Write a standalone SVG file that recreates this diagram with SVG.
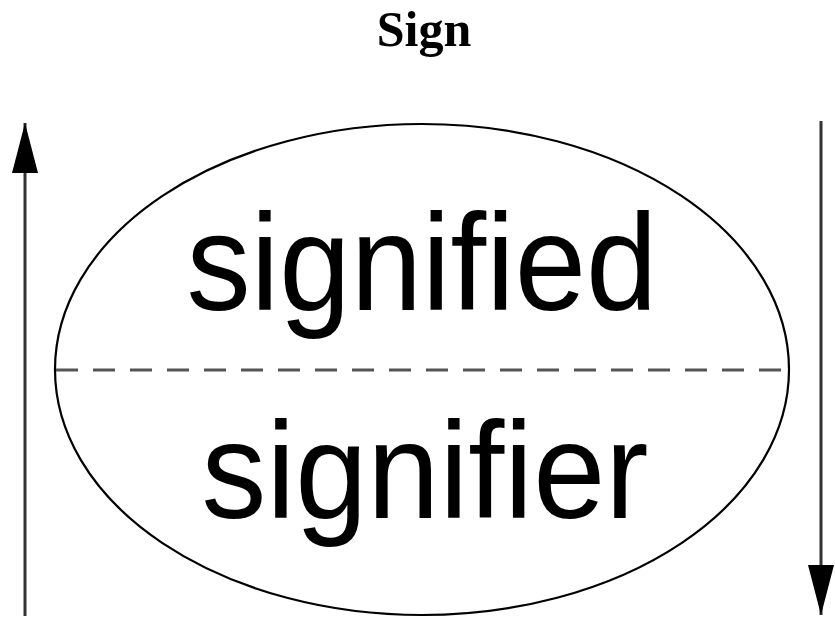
<svg xmlns="http://www.w3.org/2000/svg" width="835" height="617" viewBox="0 0 835 617">
<style>
.title{font-family:"Liberation Serif",serif;font-weight:bold;font-size:50px;fill:#000}
.big{font-family:"Liberation Sans",Arial,sans-serif;font-size:138px;fill:#000}
.arrow{stroke:#333;stroke-width:3;fill:none}
</style>
<defs>
<marker id="ah" viewBox="0 0 50 26" refX="50" refY="13" markerWidth="50" markerHeight="26" markerUnits="userSpaceOnUse" orient="auto">
<path d="M0,0 L50,13 L0,26 Z" fill="#000"/>
</marker>
</defs>
<rect width="835" height="617" fill="#fff"/>
<text class="title" x="424" y="46" text-anchor="middle">Sign</text>
<g id="sign">
<ellipse cx="422" cy="369.5" rx="367" ry="245.5" fill="none" stroke="#000" stroke-width="2.2"/>
<line x1="56" y1="370" x2="789" y2="370" stroke="#555" stroke-width="3" stroke-dasharray="22 15"/>
</g>
<g id="signified">
<text class="big" text-anchor="middle" transform="translate(422,310) scale(0.93,1)">signified</text>
</g>
<g id="signifier">
<text class="big" text-anchor="middle" transform="translate(425,518) scale(0.94,1)">signifier</text>
</g>
<g id="connectors">
<line class="arrow" x1="25" y1="616" x2="25" y2="123" marker-end="url(#ah)"/>
<line class="arrow" x1="821" y1="121" x2="821" y2="615" marker-end="url(#ah)"/>
</g>
</svg>
